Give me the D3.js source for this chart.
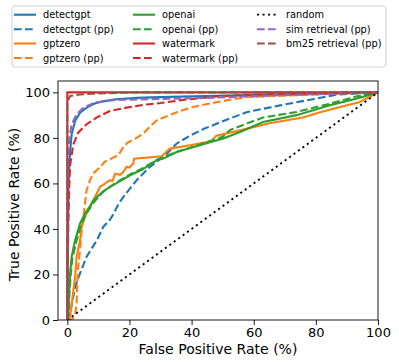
<!DOCTYPE html>
<html>
<head>
<meta charset="utf-8">
<script src="https://cdn.jsdelivr.net/npm/d3@7"></script>
<style>
  body { margin: 0; background: #fff; }
  text { font-family: "DejaVu Sans", sans-serif; }
</style>
</head>
<body>
<div id="chart"></div>
<script>
// ROC points, [false positive rate %, true positive rate %]
const detectgpt = [[0,0],[0.2,40],[0.4,60],[0.6,67],[0.9,74],[1.4,81.6],[2.5,87.4],[4.1,91.1],[6.2,93.3],[9.5,95.5],[14.8,96.9],[22.3,97.6],[30,97.9],[48,98.5],[70,99.2],[100,100]];
const detectgptPP = [[0,0],[0.3,0],[0.6,0.5],[1.7,8.8],[2.5,14.6],[4.1,20.5],[6.2,27.8],[9.5,35],[11.6,41],[13.7,44],[14.8,46.5],[16.5,51],[18,54],[20,57.5],[22.3,61.4],[26.6,67.3],[32,73],[35.2,77.5],[39.5,81],[44,84],[50,87.3],[57.7,91.3],[68.5,94.3],[79,97],[86.7,99],[100,100]];
const gptzero = [[0,0],[0.5,0],[0.9,1.5],[1.7,10.2],[2.5,19],[3,27.8],[4.1,35],[4.6,41],[5.7,45.3],[7.3,49.7],[8.9,54],[10,57],[10.5,58.5],[12.2,60],[13.7,61.4],[14.5,61],[15.4,64.3],[17,63.8],[18,65],[19.1,67.3],[20,67],[21.2,68.7],[21.5,70.9],[30.4,71.9],[33,75.3],[39.5,76.8],[44.9,78.2],[46.5,78.8],[48,81],[55.6,83.3],[65,86.4],[75.8,89],[81.3,91.3],[90,94.3],[94,95.7],[100,100]];
const gptzeroPP = [[0,0],[1,0],[2,1],[2.5,2],[3,7.4],[3.2,16],[3.5,23.4],[4.1,30.7],[4.6,39.5],[5.2,45.3],[5.7,51.2],[6.2,57],[7.3,61.4],[8.4,64.5],[10.5,67],[12,69.5],[14.3,71],[16.5,72.5],[18,76],[19.5,78],[22.3,80],[24.5,82],[26.6,85],[28.8,87.7],[35.2,91.3],[40.5,93.6],[48,95.7],[57.7,98],[79,99],[100,100]];
const openai = [[0,0],[0.3,1.5],[0.5,10],[0.6,13],[0.9,20.5],[1.4,27.8],[2.5,35],[4.1,42.4],[5.7,46.8],[7.3,50],[8.4,52.6],[11.6,56.5],[13.7,58.5],[17,61],[20.2,63.6],[24,66],[28.8,70.2],[30.9,70.9],[35.2,73.8],[42.6,76.8],[50.2,79.7],[55.6,82.6],[63,87],[73.8,90],[84.5,94.3],[93,97.2],[100,100]];
const openaiPP = [[0,0],[0.4,2],[0.7,12],[1.1,20],[1.6,27],[2.8,34],[4.4,41.5],[6,46.5],[8.4,51.5],[11.6,56.5],[15.9,60.5],[20,63.8],[24,66.5],[29,70.5],[35,73.8],[42.6,77],[50,80.5],[52.4,83.5],[63,89],[73.8,91.4],[84.5,95],[93,98.2],[100,100]];
const watermark = [[0,0],[0,100],[100,100]];
const watermarkPP = [[0,0],[0.1,15],[0.3,40],[0.6,58],[0.9,68],[1.9,77],[3.5,82.3],[6.2,86],[9.5,89],[13.7,91.8],[19.1,93.3],[25.5,94.7],[30,95.3],[38,96.8],[48,98.2],[60,99],[80,99.5],[100,100]];
const randomLine = [[0,0],[100,100]];
const simRetrievalPP = [[0,0],[0,55],[0.3,74],[0.8,81],[1.4,86],[3,90.4],[5.2,93.3],[8.4,95.2],[11.6,96.1],[15,96.6],[22.3,96.9],[30,97.1],[48,97.7],[70,98.8],[100,100]];
const bm25RetrievalPP = [[0,0],[0,96],[0.9,98.4],[4.1,99.1],[8,99.4],[20,100],[100,100]];

const seriesNames = ['detectgpt', 'detectgpt (pp)', 'gptzero', 'gptzero (pp)', 'openai', 'openai (pp)',
  'watermark', 'watermark (pp)', 'random', 'sim retrieval (pp)', 'bm25 retrieval (pp)'];
const seriesData = [detectgpt, detectgptPP, gptzero, gptzeroPP, openai, openaiPP,
  watermark, watermarkPP, randomLine, simRetrievalPP, bm25RetrievalPP];
const seriesColors = ['#1f77b4', '#1f77b4', '#ff7f0e', '#ff7f0e', '#2ca02c', '#2ca02c',
  '#d62728', '#d62728', '#000000', '#9467bd', '#8c564b'];
const seriesDash = [null, 'dash', null, 'dash', null, 'dash', null, 'dash', 'dot', 'dash', 'dash'];
const xTicks = [0, 20, 40, 60, 80, 100];
const yTicks = [0, 20, 40, 60, 80, 100];

const width = 399, height = 364;
const plot = { left: 58, right: 378, top: 81, bottom: 320 };

const svg = d3.select('#chart').append('svg')
  .attr('width', width)
  .attr('height', height);

const x = d3.scaleLinear().domain([-3, 100]).range([plot.left, plot.right]);
const y = d3.scaleLinear().domain([0, 105]).range([plot.bottom, plot.top]);

const dashArray = d => d === 'dash' ? '7.7,3.3' : d === 'dot' ? '2.1,3.4' : null;

svg.append('defs').append('clipPath')
  .attr('id', 'plot-clip')
  .append('rect')
  .attr('x', plot.left)
  .attr('y', plot.top)
  .attr('width', plot.right - plot.left)
  .attr('height', plot.bottom - plot.top);

const line = d3.line().x(d => x(d[0])).y(d => y(d[1]));

svg.append('g')
  .attr('clip-path', 'url(#plot-clip)')
  .selectAll('path')
  .data(seriesData)
  .join('path')
  .attr('d', line)
  .attr('fill', 'none')
  .attr('stroke', (d, i) => seriesColors[i])
  .attr('stroke-width', (d, i) => seriesDash[i] === 'dot' ? 1.8 : 2.1)
  .attr('stroke-dasharray', (d, i) => dashArray(seriesDash[i]));

// axes
const xAxis = svg.append('g')
  .attr('transform', `translate(0,${plot.bottom})`)
  .call(d3.axisBottom(x).tickValues(xTicks).tickSize(5).tickPadding(3));
const yAxis = svg.append('g')
  .attr('transform', `translate(${plot.left},0)`)
  .call(d3.axisLeft(y).tickValues(yTicks).tickSize(5).tickPadding(3));

[xAxis, yAxis].forEach(a => {
  a.select('.domain').remove();
  a.selectAll('line').attr('stroke', '#000').attr('stroke-width', 0.9);
  a.selectAll('text').attr('fill', '#000').style('font-size', '13px')
    .style('font-family', '"DejaVu Sans", sans-serif');
});

svg.append('rect')
  .attr('x', plot.left)
  .attr('y', plot.top)
  .attr('width', plot.right - plot.left)
  .attr('height', plot.bottom - plot.top)
  .attr('fill', 'none')
  .attr('stroke', '#000')
  .attr('stroke-width', 0.9);

svg.append('text')
  .attr('x', (plot.left + plot.right) / 2)
  .attr('y', 353.5)
  .attr('text-anchor', 'middle')
  .style('font-size', '14px')
  .text('False Positive Rate (%)');

svg.append('text')
  .attr('transform', `translate(19,${(plot.top + plot.bottom) / 2 + 4}) rotate(-90)`)
  .attr('text-anchor', 'middle')
  .style('font-size', '14px')
  .text('True Positive Rate (%)');

// legend, 3 columns filled column-wise
const legend = svg.append('g').attr('class', 'legend');
legend.append('rect')
  .attr('x', 12).attr('y', 6)
  .attr('width', 374).attr('height', 61)
  .attr('rx', 3)
  .attr('fill', '#fff')
  .attr('fill-opacity', 0.8)
  .attr('stroke', '#d0d0d0')
  .attr('stroke-width', 1);

const colX = [14, 133, 257];
const rowY = [14.7, 29.3, 43.5, 58];
const perCol = 4;

const items = legend.selectAll('g.item')
  .data(seriesNames)
  .join('g')
  .attr('class', 'item')
  .attr('transform', (d, i) => `translate(${colX[Math.floor(i / perCol)]},${rowY[i % perCol]})`);

items.append('line')
  .attr('x1', 0).attr('x2', 22)
  .attr('stroke', (d, i) => seriesColors[i])
  .attr('stroke-width', (d, i) => seriesDash[i] === 'dot' ? 1.8 : 2.1)
  .attr('stroke-dasharray', (d, i) => dashArray(seriesDash[i]));

items.append('text')
  .attr('x', 29)
  .attr('y', 3.5)
  .style('font-size', '9.8px')
  .text(d => d);
</script>
</body>
</html>
